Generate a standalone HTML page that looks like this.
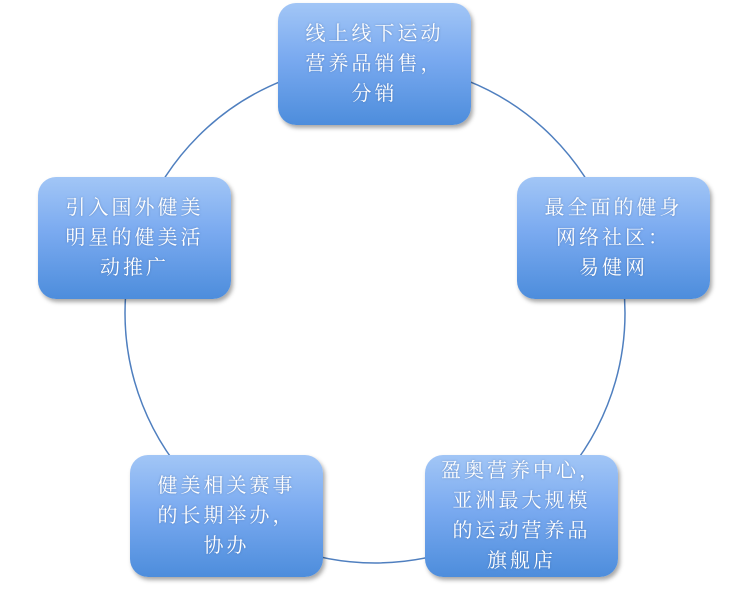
<!DOCTYPE html>
<html><head><meta charset="utf-8"><style>
body{margin:0;width:750px;height:602px;background:#fff;position:relative;overflow:hidden;font-family:"Liberation Serif","Noto Serif CJK SC",serif}
.b{position:absolute;width:193px;height:122px;border-radius:18px;background:linear-gradient(#a2c6f6,#7aaaf0 45%,#4d8ddc);box-shadow:2px 3px 4px rgba(0,0,0,.35);color:#fff;font-size:20px;line-height:30px;text-align:center;display:flex;align-items:center;justify-content:center;text-shadow:0 0 2px rgba(60,90,140,.5);box-sizing:border-box;letter-spacing:3px;white-space:nowrap}
svg{position:absolute;left:0;top:0}
</style></head><body>
<svg width="750" height="602"><circle cx="375" cy="313" r="250" fill="none" stroke="#4f7fbf" stroke-width="1.5"/></svg>
<div class="b" style="left:278px;top:3px"><div>线上线下运动<br>营养品销售，<br>分销</div></div>
<div class="b" style="left:517px;top:177px"><div>最全面的健身<br>网络社区：<br>易健网</div></div>
<div class="b" style="left:425px;top:455px"><div>盈奥营养中心，<br>亚洲最大规模<br>的运动营养品<br>旗舰店</div></div>
<div class="b" style="left:130px;top:455px"><div>健美相关赛事<br>的长期举办，<br>协办</div></div>
<div class="b" style="left:38px;top:177px"><div>引入国外健美<br>明星的健美活<br>动推广</div></div>
</body></html>
